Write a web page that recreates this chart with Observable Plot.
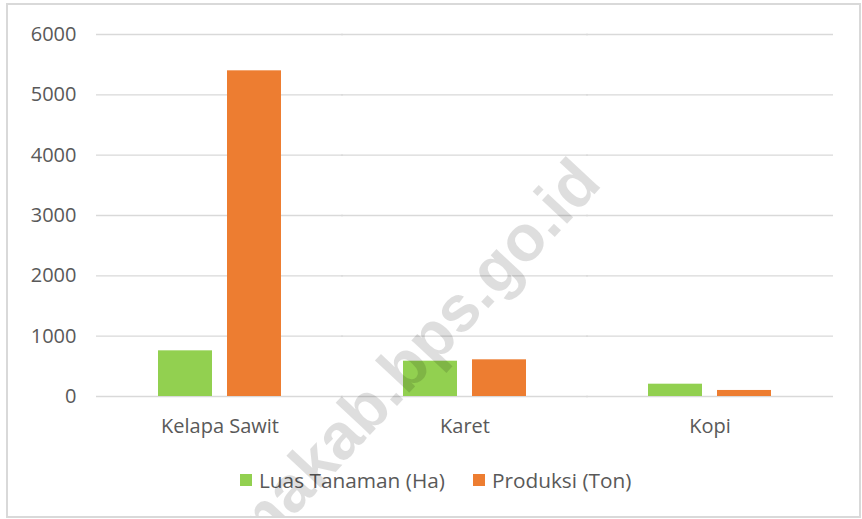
<!DOCTYPE html>
<html>
<head>
<meta charset="utf-8">
<script src="https://cdn.jsdelivr.net/npm/d3@7"></script>
<script src="https://cdn.jsdelivr.net/npm/@observablehq/plot@0.6"></script>
<style>
  html, body { margin: 0; padding: 0; background: #fff; }
  #wrap { position: relative; width: 862px; height: 519px; overflow: hidden; font-family: "Open Sans", sans-serif; }
  #chart { position: absolute; left: 0; top: 0; }
  #frame { position: absolute; left: 6px; top: 3px; width: 851px; height: 511px; border: 2px solid #d9d9d9; overflow: hidden; pointer-events: none; }
  #wm { position: absolute; left: 404px; top: 352px; transform: translate(-50%, -50%) rotate(-47deg); font-family: "Liberation Sans", Arial, sans-serif; font-weight: bold; font-size: 65px; color: rgba(0,0,0,0.13); white-space: nowrap; }
  #legend { position: absolute; left: 240px; top: 466px; display: flex; align-items: center; font-size: 20.8px; color: #595959; white-space: nowrap; }
  .sw { display: inline-block; width: 12px; height: 12px; margin-right: 7px; }
  .item { display: flex; align-items: center; margin-right: 28px; }
</style>
</head>
<body>
<div id="wrap">
  <div id="chart"></div>
  <div id="legend"></div>
  <div id="frame"><div id="wm">makab.bps.go.id</div></div>
</div>
<script>
const categories = ["Kelapa Sawit", "Karet", "Kopi"];
const seriesNames = ["Luas Tanaman (Ha)", "Produksi (Ton)"];
const luasTanaman = [757, 585, 204];
const produksi = [5398, 608, 100];
const yTicks = [0, 1000, 2000, 3000, 4000, 5000, 6000];
const colors = ["#92d050", "#ed7d31"];

const data = [];
categories.forEach((c, i) => {
  data.push({category: c, series: seriesNames[0], value: luasTanaman[i]});
  data.push({category: c, series: seriesNames[1], value: produksi[i]});
});

const chart = Plot.plot({
  width: 862,
  height: 519,
  marginLeft: 156,
  marginRight: 90,
  marginTop: 34,
  marginBottom: 123,
  style: {fontSize: "20px", fontFamily: "Open Sans, sans-serif", color: "#595959", background: "transparent"},
  facet: {data, x: "category"},
  fx: {domain: categories, paddingInner: 0.49, paddingOuter: 0, axis: "bottom", tickSize: 0, tickPadding: 22, label: null},
  x: {domain: seriesNames, paddingInner: 0.214, paddingOuter: 0, axis: null},
  y: {domain: [0, 6000], ticks: yTicks, tickSize: 0, tickPadding: 81, label: null, tickFormat: d => String(d)},
  color: {domain: seriesNames, range: colors},
  marks: [
    Plot.ruleY(yTicks, {stroke: "#d9d9d9", strokeWidth: 1.3, insetLeft: -61, insetRight: -61}),
    Plot.barY(data, {x: "series", y: "value", fill: "series"})
  ]
});
document.getElementById("chart").appendChild(chart);

const legend = document.getElementById("legend");
seriesNames.forEach((s, i) => {
  const item = document.createElement("div");
  item.className = "item";
  const sw = document.createElement("span");
  sw.className = "sw";
  sw.style.background = colors[i];
  const t = document.createElement("span");
  t.textContent = s;
  item.appendChild(sw);
  item.appendChild(t);
  legend.appendChild(item);
});
</script>
</body>
</html>
